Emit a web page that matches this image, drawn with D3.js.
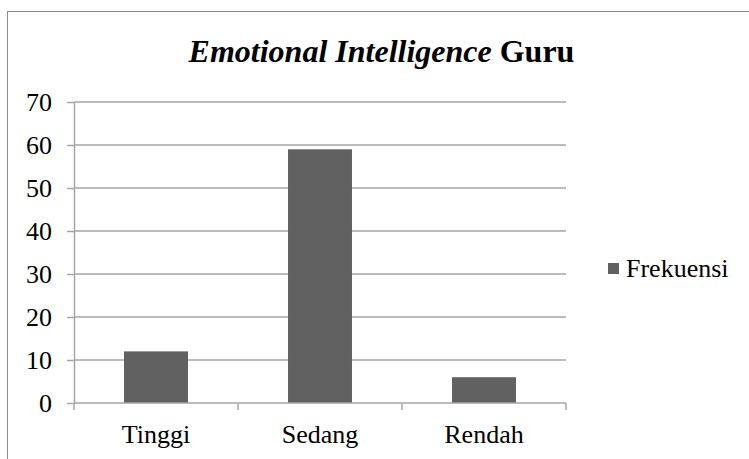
<!DOCTYPE html>
<html>
<head>
	<meta charset="utf-8">
	<script type="text/javascript" src="https://cdn.jsdelivr.net/npm/d3@7"></script>
	<style type="text/css">
		body { margin: 0; background: #fff; }
	</style>
</head>
<body>
<script type="text/javascript">

var categories = ["Tinggi", "Sedang", "Rendah"];
var frekuensi = [12, 59, 6];
var yTicks = [0, 10, 20, 30, 40, 50, 60, 70];
var seriesName = "Frekuensi";

var width = 749,
	height = 459,
	plotLeft = 74, plotRight = 566,
	plotTop = 102, plotBottom = 403,
	serifFont = "'Liberation Serif', Tinos, 'Times New Roman', Times",
	fontSize = "26px",
	barColor = "#616161",
	gridColor = "#a6a6a6";

var svg = d3.select("body").append("svg")
	.attr("width", width)
	.attr("height", height)
	.attr("font-family", "Liberation Serif");

// chart frame (runs off the right and bottom of the picture)
svg.append("rect")
	.attr("x", 7.5).attr("y", 11.5)
	.attr("width", 800).attr("height", 500)
	.attr("fill", "none")
	.attr("stroke", "#8c8c8c")
	.attr("stroke-width", 1);

var chartTitle = svg.append("text")
	.attr("x", 381.5)
	.attr("y", 62)
	.attr("text-anchor", "middle")
	.attr("fill", "#000")
	.style("font-family", serifFont)
	.style("font-size", "32px")
	.style("font-weight", "bold");
chartTitle.append("tspan").style("font-style", "italic").text("Emotional Intelligence");
chartTitle.append("tspan").text(" Guru");

var x = d3.scaleBand()
	.domain(categories)
	.range([plotLeft, plotRight])
	.paddingInner(0.61)
	.paddingOuter(0.305);

var y = d3.scaleLinear()
	.domain([0, 70])
	.range([plotBottom, plotTop]);

// gridlines
svg.append("g").selectAll("line")
	.data(yTicks.filter(function(d) { return d > 0; }))
  .enter().append("line")
	.attr("x1", plotLeft).attr("x2", plotRight)
	.attr("y1", function(d) { return y(d); })
	.attr("y2", function(d) { return y(d); })
	.attr("stroke", gridColor)
	.attr("stroke-width", 1.5);

// y axis
var yAxis = svg.append("g")
	.attr("transform", "translate(" + plotLeft + ",0)")
	.call(d3.axisLeft(y).tickValues(yTicks).tickSize(7).tickPadding(15).tickSizeOuter(0));
yAxis.attr("font-family", "Liberation Serif").attr("font-size", null);
yAxis.select(".domain").attr("stroke", gridColor).attr("stroke-width", 1.5);
yAxis.selectAll(".tick line").attr("stroke", gridColor).attr("stroke-width", 1.5);
yAxis.selectAll(".tick text")
	.style("font-family", serifFont)
	.style("font-size", fontSize)
	.attr("fill", "#000");

// bars
svg.append("g").selectAll("rect")
	.data(frekuensi)
  .enter().append("rect")
	.attr("x", function(d, i) { return x(categories[i]); })
	.attr("y", function(d) { return y(d); })
	.attr("width", x.bandwidth())
	.attr("height", function(d) { return y(0) - y(d); })
	.attr("fill", barColor);

// x axis line and category ticks
svg.append("line")
	.attr("x1", plotLeft).attr("x2", plotRight)
	.attr("y1", y(0)).attr("y2", y(0))
	.attr("stroke", gridColor).attr("stroke-width", 1.5);

var edges = categories.map(function(c) { return x(c) + x.bandwidth() / 2 - x.step() / 2; });
edges.push(plotRight);
svg.append("g").selectAll("line")
	.data(edges)
  .enter().append("line")
	.attr("x1", function(d) { return d; }).attr("x2", function(d) { return d; })
	.attr("y1", y(0)).attr("y2", y(0) + 7)
	.attr("stroke", gridColor).attr("stroke-width", 1.5);

svg.append("g").selectAll("text")
	.data(categories)
  .enter().append("text")
	.attr("x", function(d) { return x(d) + x.bandwidth() / 2; })
	.attr("y", 443)
	.attr("text-anchor", "middle")
	.attr("fill", "#000")
	.style("font-family", serifFont)
	.style("font-size", fontSize)
	.text(function(d) { return d; });

// legend
svg.append("rect")
	.attr("x", 608).attr("y", 263)
	.attr("width", 11).attr("height", 11)
	.attr("fill", barColor);
svg.append("text")
	.attr("x", 626).attr("y", 277)
	.attr("fill", "#000")
	.style("font-family", serifFont)
	.style("font-size", fontSize)
	.text(seriesName);

</script>
</body>
</html>
